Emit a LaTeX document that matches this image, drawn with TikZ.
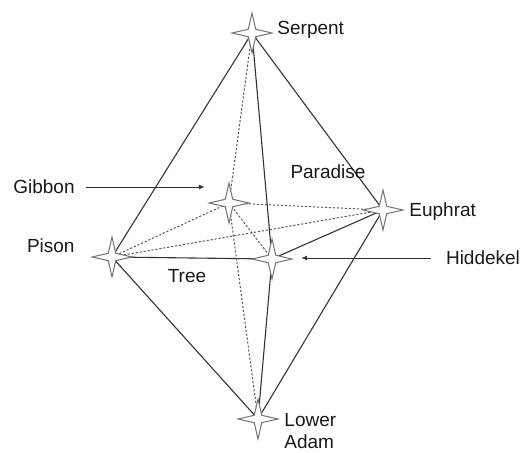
\documentclass[tikz,border=0pt]{standalone}
\usepackage{fontspec}
\setmainfont{Liberation Sans}
\usepackage{tikz}
\usetikzlibrary{shapes.geometric, positioning, arrows.meta, backgrounds}

\begin{document}
\begin{tikzpicture}[x=1pt, y=-1pt, >={Latex[length=6pt, width=5pt]},
    vertex/.style={star, star points=4, star point ratio=3.8, minimum size=40pt,
        inner sep=0pt, draw=black!55, fill=white, line width=1pt},
    lbl/.style={font=\fontsize{19}{22}\selectfont, text=black!90, inner sep=1pt},
    rim/.style={draw=black!80, line width=1.1pt},
    hidden/.style={draw=black!65, line width=1pt, dash pattern=on 2.2pt off 1.8pt},
    pointer/.style={->, draw=black!80, line width=0.9pt}]
    \useasboundingbox (0,0) rectangle (523,453);

    % vertices of the octahedron
    \node[vertex] (s) at (252,33) {};
    \node[vertex] (g) at (229,203) {};
    \node[vertex] (e) at (383,210) {};
    \node[vertex] (p) at (112,257) {};
    \node[vertex] (h) at (272,259) {};
    \node[vertex] (la) at (258,419) {};

    \node[lbl] (serpent) [right=2pt of s, yshift=3pt] {Serpent};
    \node[lbl] (euphrat) [right=3pt of e, yshift=-2pt] {Euphrat};
    \node[lbl] (pison) [left=14pt of p, yshift=11pt] {Pison};
    \node[lbl, align=left] (loweradam) [right=3pt of la, yshift=-12pt] {Lower\\Adam};
    \node[lbl] (tree) at (187,276) {Tree};
    \node[lbl] (paradise) at (328,172) {Paradise};
    \node[lbl] (gibbon) at (44,187) {Gibbon};
    \node[lbl] (hiddekel) at (483,258) {Hiddekel};

    \draw[pointer, shorten <=10pt, shorten >=2pt] (gibbon) -- (gibbon -| g.west);
    \draw[pointer, shorten <=14pt, shorten >=7pt] (hiddekel) -- (hiddekel -| h.east);

    \begin{scope}[on background layer]
        \path[rim]
        (s.center) edge (p.center)
        (s.center) edge (e.center)
        (s.center) edge (h.center)
        (la.center) edge (p.center)
        (la.center) edge (e.center)
        (la.center) edge (h.center)
        (p.center) edge (h.center)
        (h.center) edge (e.center);

        \path[hidden]
        (s.center) edge (g.center)
        (la.center) edge (g.center)
        (p.center) edge (g.center)
        (g.center) edge (e.center)
        (p.center) edge (e.center)
        (g.center) edge (h.center);
    \end{scope}
\end{tikzpicture}
\end{document}
